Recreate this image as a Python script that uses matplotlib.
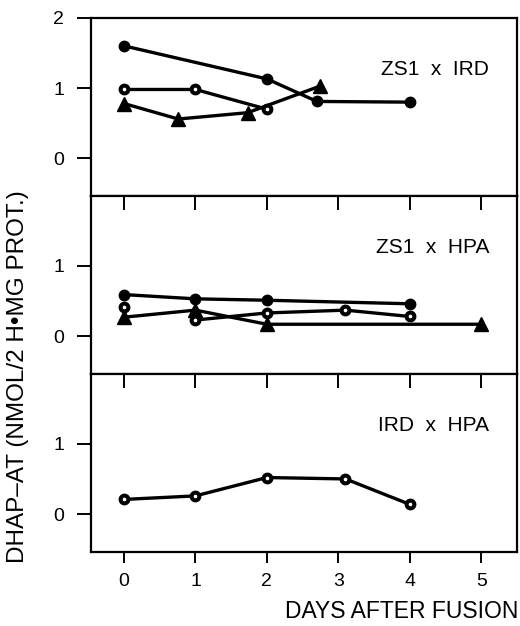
import matplotlib.pyplot as plt
import numpy as np

plt.rcParams['font.family'] = ['Liberation Sans', 'DejaVu Sans']

#### Donnees lues sur la figure
# panneau 1 : ZS1 x IRD
j1_plein = [0, 2, 2.7, 4]
v1_plein = [1.60, 1.13, 0.81, 0.80]
j1_vide = [0, 1, 2]
v1_vide = [0.98, 0.98, 0.70]
j1_tri = [0, 0.76, 1.73, 2.75]
v1_tri = [0.78, 0.56, 0.65, 1.03]

# panneau 2 : ZS1 x HPA
j2_plein = [0, 1, 2, 4]
v2_plein = [0.59, 0.53, 0.51, 0.46]
j2_vide = [0, 1, 2, 3.1, 4]
v2_vide = [0.42, 0.23, 0.33, 0.37, 0.28]
j2_tri = [0, 1, 2, 5]
v2_tri = [0.27, 0.37, 0.17, 0.17]

# panneau 3 : IRD x HPA
j3_vide = [0, 1, 2, 3.1, 4]
v3_vide = [0.21, 0.26, 0.52, 0.50, 0.14]

titres = ['ZS1  x  IRD', 'ZS1  x  HPA', 'IRD  x  HPA']
jours = [0, 1, 2, 3, 4, 5]

#### Styles
lw = 2.4
st_plein = dict(color='black', lw=lw, marker='o', ms=7.5, mfc='black', mec='black')
st_vide = dict(color='black', lw=lw, marker='o', ms=5.6, mfc='white', mec='black', mew=2.9)
st_tri = dict(color='black', lw=lw, marker='^', ms=9.5, mfc='black', mec='black')

fig = plt.figure(figsize=(5.2, 6.26), dpi=100)
gauche, droite = 0.1744, 0.9942
haut, bas = 0.9717, 0.1187
h = (haut - bas) / 3

axes = []
for i in range(3):
    ax = fig.add_axes([gauche, haut - (i + 1) * h, droite - gauche, h])
    ax.set_xlim(-0.466, 5.5)
    ax.set_ylim(-0.53, 1.99)
    for s in ax.spines.values():
        s.set_linewidth(1.6)
    ax.set_yticks([0, 1, 2] if i == 0 else [0, 1])
    ax.tick_params(axis='y', direction='out', length=10, width=1.4, pad=9, labelsize=14)
    ax.text(0.935, 0.71, titres[i], transform=ax.transAxes, ha='right', va='center', fontsize=15)
    axes.append(ax)

# ticks x : vers l'interieur en haut des panneaux 2 et 3, vers l'exterieur en bas
axes[0].set_xticks([])
for i in (1, 2):
    axes[i].set_xticks(jours)
    axes[i].tick_params(axis='x', top=True, bottom=False, labeltop=False, labelbottom=False,
                        direction='in', length=10, width=1.4)
sec = axes[2].secondary_xaxis('bottom')
sec.set_xticks(jours)
sec.spines['bottom'].set_visible(False)
sec.tick_params(axis='x', direction='out', length=7.7, width=1.4, pad=8, labelsize=14)

ax1, ax2, ax3 = axes
ax1.plot(j1_plein, v1_plein, **st_plein)
ax1.plot(j1_vide, v1_vide, **st_vide)
ax1.plot(j1_tri, v1_tri, **st_tri)

ax2.plot(j2_tri, v2_tri, **st_tri)
ax2.plot(j2_plein, v2_plein, **st_plein)
# le premier point vide n'est pas relie sur la figure
ax2.plot(j2_vide[1:], v2_vide[1:], color='black', lw=lw)
ax2.plot(j2_vide, v2_vide, ls='none', marker='o', ms=5.6, mfc='white', mec='black', mew=2.9)

ax3.plot(j3_vide, v3_vide, **st_vide)

fig.text(0.996, 1 - 612 / 626, 'DAYS AFTER FUSION', ha='right', va='center', fontsize=16.5)
fig.text(18 / 520, 1 - 377 / 626, 'DHAP\u2013AT (NMOL/2 H\u2022MG PROT.)', rotation=90,
         ha='center', va='center', fontsize=17.5)

fig.savefig('out.png', dpi=100)
